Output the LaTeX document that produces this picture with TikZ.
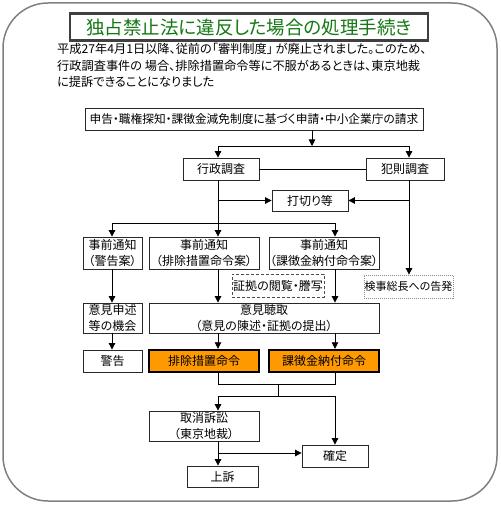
\documentclass[tikz,border=0pt]{standalone}
\usepackage{fontspec}
\setmainfont[RawFeature=+palt]{Noto Sans CJK JP}
\usetikzlibrary{arrows.meta}
\definecolor{ttlgreen}{RGB}{20,120,20}
\definecolor{ordfill}{RGB}{255,153,0}
\definecolor{framegray}{RGB}{128,128,128}
\definecolor{boxline}{RGB}{40,40,40}
\begin{document}
\begin{tikzpicture}[x=1pt,y=-1pt,
  box/.style={draw=boxline, line width=0.8pt, fill=white, inner sep=0pt,
    font=\fontsize{12}{15.5}\selectfont, align=center},
  ordbox/.style={box, fill=ordfill, line width=2.4pt, draw=black},
  dashbox/.style={box, draw=black!70, dash pattern=on 3pt off 2pt},
  dotbox/.style={box, draw=black!45, dash pattern=on 1pt off 1pt},
  arr/.style={-{Triangle[length=6.5pt,width=6.5pt]}, line width=0.8pt},
  ln/.style={line width=0.8pt}]
\useasboundingbox (0,0) rectangle (500,505);
% outer frame
\draw[framegray, line width=1.5pt, rounded corners=45pt] (3,3) rectangle (497,501);
% title
\node[draw=black!75, line width=2.2pt, fill=white, minimum width=358, minimum height=27,
  inner sep=0pt, text=ttlgreen, font=\fontsize{18.5}{20}\selectfont] (title) at (249,27)
  {独占禁止法に違反した場合の処理手続き};
\node[anchor=north west, align=left, inner sep=0pt, font=\fontsize{12.2}{16.5}\selectfont] (para) at (57,43)
  {平成27年4月1日以降、従前の「審判制度」 が廃止されました。このため、\\
   行政調査事件の 場合、排除措置命令等に不服があるときは、東京地裁\\
   に提訴できることになりました};
% nodes
\node[box, minimum width=338, minimum height=22, font=\fontsize{11.7}{14}\selectfont] (top) at (254,119)
  {申告・職権探知・課徴金減免制度に基づく申請・中小企業庁の請求};
\node[box, minimum width=76, minimum height=22] (gy) at (221,169) {行政調査};
\node[box, minimum width=78, minimum height=22] (hs) at (405,169) {犯則調査};
\node[box, minimum width=76, minimum height=21] (uc) at (310,200.5) {打切り等};
\node[box, minimum width=59, minimum height=32] (w1) at (112.5,253) {事前通知\\（警告案）};
\node[box, minimum width=110, minimum height=32] (w2) at (204,253) {事前通知\\（排除措置命令案）};
\node[box, minimum width=110, minimum height=32] (w3) at (324,253) {事前通知\\（課徴金納付命令案）};
\node[dashbox, minimum width=92, minimum height=23] (ev) at (278,285.5) {証拠の閲覧・謄写};
\node[dotbox, minimum width=89, minimum height=23, font=\fontsize{11}{14}\selectfont] (kj) at (408.5,286.5) {検事総長への告発};
\node[box, minimum width=59, minimum height=30] (i1) at (112.5,318) {意見申述\\等の機会};
\node[box, minimum width=230, minimum height=30] (i2) at (264,318) {意見聴取\\（意見の陳述・証拠の提出）};
\node[box, minimum width=59, minimum height=22] (k1) at (112.5,361) {警告};
\node[ordbox, minimum width=110, minimum height=22] (k2) at (204,361) {排除措置命令};
\node[ordbox, minimum width=110, minimum height=22] (k3) at (324,361) {課徴金納付命令};
\node[box, minimum width=110, minimum height=30] (t1) at (204,426) {取消訴訟\\（東京地裁）};
\node[box, minimum width=66, minimum height=22] (t2) at (335,456) {確定};
\node[box, minimum width=71, minimum height=21] (t3) at (222.5,476.5) {上訴};
% lanes and junctions
\coordinate (LA) at (112,0);
\coordinate (LB) at (218,0);
\coordinate (LC) at (335,0);
\coordinate (LD) at (409,0);
\coordinate (J1) at (312,146);
\coordinate (J2) at (218,223);
\coordinate (J3) at (278,384);
\coordinate (J4) at (278,396);
\coordinate (J5) at (218,453);
\coordinate (J6) at (218,200.5);
\coordinate (J7) at (409,200.5);
% connectors
\draw[arr] (J1 |- top.south) -- (J1);
\draw[ln] (LB |- J1) -- (LD |- J1);
\draw[arr] (LB |- J1) -- (LB |- gy.north);
\draw[arr] (LD |- J1) -- (LD |- hs.north);
\draw[ln] (gy.east) -- (hs.west);
\draw[ln] (LB |- gy.south) -- (J2);
\draw[arr] (J6) -- (uc.west);
\draw[arr] (J7) -- (uc.east);
\draw[arr] (LD |- hs.south) -- (LD |- kj.north);
\draw[ln] (LA |- J2) -- (LC |- J2);
\draw[arr] (LA |- J2) -- (LA |- w1.north);
\draw[arr] (LB |- J2) -- (LB |- w2.north);
\draw[arr] (LC |- J2) -- (LC |- w3.north);
\draw[arr] (LA |- w1.south) -- (LA |- i1.north);
\draw[arr] (LB |- w2.south) -- (LB |- i2.north);
\draw[arr] (LC |- w3.south) -- (LC |- i2.north);
\draw[arr] (LA |- i1.south) -- (LA |- k1.north);
\draw[arr] (LB |- i2.south) -- (LB |- k2.north);
\draw[arr] (LC |- i2.south) -- (LC |- k3.north);
\draw[ln] (LB |- k2.south) -- (LB |- J3) -- (LC |- J3) -- (LC |- k3.south);
\draw[ln] (J3) -- (J4);
\draw[ln] (LB |- J4) -- (LC |- J4);
\draw[arr] (LB |- J4) -- (LB |- t1.north);
\draw[arr] (LC |- J4) -- (LC |- t2.north);
\draw[arr] (LB |- t1.south) -- (LB |- t3.north);
\draw[arr] (J5) -- (J5 -| t2.west);
\end{tikzpicture}
\end{document}
